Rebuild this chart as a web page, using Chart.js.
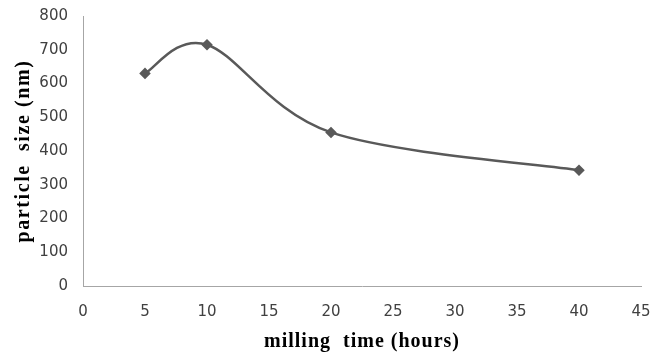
<!DOCTYPE html>
<html>
<head>
<meta charset="utf-8">
<script src="https://cdn.jsdelivr.net/npm/chart.js@4"></script>
<style>
  html, body { margin: 0; padding: 0; background: #fff; }
  #wrap { width: 657px; height: 354px; }
</style>
</head>
<body>
<div id="wrap"><canvas id="sizeChart" width="657" height="354"></canvas></div>
<script>
// milling time (hours) vs particle size (nm)
const millingHours = [5, 10, 20, 40];
const particleSize = [630, 715, 455, 343];
const xTicks = [0, 5, 10, 15, 20, 25, 30, 35, 40, 45];
const yTicks = [0, 100, 200, 300, 400, 500, 600, 700, 800];

const points = millingHours.map((h, i) => ({ x: h, y: particleSize[i] }));

const tickFont = { family: 'DejaVu Sans, sans-serif', size: 15 };
const titleFont = { family: 'Liberation Serif, Times New Roman, serif', size: 20, weight: 'bold' };

// the scanned titles are a bit stretched, so spread the letters
const spacedTitles = {
    id: 'spacedTitles',
    afterLayout(chart) {
        [['x', '1px'], ['y', '1.6px']].forEach(([id, gap]) => {
            const scale = chart.scales[id];
            const orig = scale.drawTitle;
            scale.drawTitle = function () {
                const c = this.ctx;
                c.save();
                c.letterSpacing = gap;
                orig.apply(this, arguments);
                c.restore();
            };
        });
    }
};

// Excel style smoothing: bezier handles at 1/6 of (next - prev)
const excelSmooth = {
    id: 'excelSmooth',
    afterDatasetsUpdate(chart) {
        chart.getSortedVisibleDatasetMetas().forEach(meta => {
            const pts = meta.data;
            const n = pts.length;
            for (let i = 0; i < n; i++) {
                const p = pts[i];
                const prev = pts[Math.max(i - 1, 0)];
                const next = pts[Math.min(i + 1, n - 1)];
                const dx = (next.x - prev.x) / 6;
                const dy = (next.y - prev.y) / 6;
                p.cp1x = p.x - dx; p.cp1y = p.y - dy;
                p.cp2x = p.x + dx; p.cp2y = p.y + dy;
            }
            meta.dataset._pointsUpdated = true;
        });
    }
};

const ctx = document.getElementById('sizeChart').getContext('2d');
new Chart(ctx, {
    type: 'line',
    data: {
        datasets: [{
            label: 'particle size',
            data: points,
            borderColor: '#595959',
            backgroundColor: '#595959',
            borderWidth: 2.5,
            tension: 0.4,
            pointStyle: 'rectRot',
            pointRadius: 4,
            pointHoverRadius: 4,
            fill: false
        }]
    },
    plugins: [spacedTitles, excelSmooth],
    options: {
        responsive: false,
        animation: false,
        layout: { padding: 0 },
        plugins: {
            legend: { display: false },
            tooltip: { enabled: false }
        },
        scales: {
            x: {
                type: 'linear',
                min: 0,
                max: 45,
                afterBuildTicks: axis => { axis.ticks = xTicks.map(v => ({ value: v })); },
                afterFit: axis => {
                    axis.height = 68;
                    axis.paddingLeft = 0;
                    axis.paddingRight = 16;
                },
                grid: { display: false, drawTicks: false },
                border: { display: true, color: '#a6a6a6', width: 1 },
                ticks: { color: '#404040', font: tickFont, padding: 17 },
                title: { display: true, text: 'milling  time (hours)', color: '#000', font: titleFont, padding: { top: 11, bottom: 0 } }
            },
            y: {
                min: 0,
                max: 800,
                afterBuildTicks: axis => { axis.ticks = yTicks.map(v => ({ value: v })); },
                afterFit: axis => {
                    axis.width = 83;
                    axis.paddingTop = 16;
                    axis.paddingBottom = 0;
                },
                grid: { display: false, drawTicks: false },
                border: { display: true, color: '#a6a6a6', width: 1 },
                ticks: { color: '#404040', font: tickFont, padding: 15 },
                title: { display: true, text: 'particle  size (nm)', color: '#000', font: titleFont, padding: { top: 12, bottom: 0 } }
            }
        }
    }
});
</script>
</body>
</html>
